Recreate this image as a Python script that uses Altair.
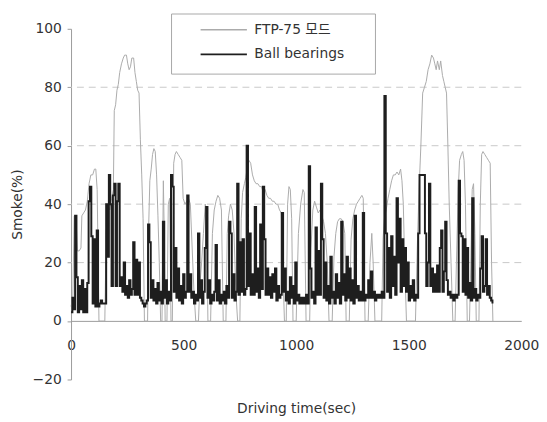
import altair as alt
import pandas as pd

FTP_LABEL = "FTP-75 모드"
BB_LABEL = "Ball bearings"

# FTP-75 mode smoke trace (time in sec, smoke %)
ftp_t = [0, 8, 14, 22, 28, 36, 44, 48, 56, 64, 72, 80, 88, 96, 104, 110, 116, 124, 150, 156,
         164, 172, 180, 188, 192, 198, 204, 210, 216, 224, 232, 238, 246, 252, 258, 264, 270, 278, 284, 290,
         296, 302, 308, 314, 320, 326, 340, 344, 350, 356, 362, 368, 374, 380, 386, 392, 398, 404, 410, 414,
         418, 426, 432, 438, 444, 450, 456, 462, 468, 476, 484, 492, 498, 506, 514, 522, 530, 538, 546, 554,
         566, 572, 580, 588, 596, 602, 608, 620, 628, 636, 644, 652, 660, 668, 676, 688, 694, 700, 708, 716,
         724, 732, 740, 750, 756, 762, 770, 776, 782, 790, 798, 806, 814, 822, 830, 838, 846, 854, 862, 870,
         878, 886, 894, 902, 910, 918, 926, 934, 940, 948, 956, 962, 968, 974, 980, 986, 1000, 1010, 1020, 1030,
         1036, 1044, 1060, 1066, 1074, 1082, 1090, 1098, 1106, 1114, 1122, 1130, 1138, 1146, 1160, 1168, 1176, 1184, 1192, 1200,
         1208, 1216, 1222, 1236, 1244, 1252, 1260, 1268, 1276, 1284, 1292, 1298, 1306, 1320, 1328, 1336, 1342, 1350, 1380, 1386,
         1392, 1400, 1408, 1416, 1424, 1432, 1440, 1448, 1456, 1464, 1470, 1476, 1482, 1490, 1530, 1538, 1546, 1554, 1562, 1570,
         1578, 1586, 1594, 1602, 1610, 1616, 1622, 1628, 1636, 1642, 1650, 1656, 1662, 1668, 1674, 1680, 1688, 1696, 1706, 1712,
         1720, 1726, 1734, 1740, 1746, 1752, 1760, 1770, 1776, 1782, 1788, 1794, 1800, 1812, 1818, 1824, 1830, 1838, 1846, 1854,
         1862, 1868, 1874]
ftp_v = [5, 8, 36, 36, 24, 24, 25, 36, 37, 38, 41, 47, 50, 50, 52, 52, 45, 0, 0, 30,
         40, 38, 42, 45, 72, 74, 79, 81, 85, 88, 90, 91, 91, 88, 86, 87, 90, 90, 85, 82,
         79, 78, 62, 50, 35, 0, 0, 30, 48, 52, 57, 59, 58, 50, 36, 20, 0, 0, 48, 30,
         0, 0, 40, 42, 0, 0, 54, 57, 58, 57, 56, 55, 42, 40, 41, 42, 40, 25, 10, 0,
         0, 12, 20, 30, 40, 38, 0, 0, 30, 38, 41, 43, 42, 38, 0, 0, 30, 36, 40, 38,
         30, 10, 0, 0, 35, 44, 47, 49, 52, 55, 54, 50, 48, 47, 47, 46, 46, 44, 45, 43,
         42, 42, 41, 41, 40, 40, 38, 37, 20, 0, 0, 40, 46, 45, 35, 0, 0, 30, 40, 45,
         44, 0, 0, 25, 38, 41, 39, 37, 38, 36, 34, 30, 20, 0, 0, 22, 30, 34, 35, 35,
         34, 30, 0, 0, 28, 35, 38, 40, 41, 42, 43, 42, 0, 0, 20, 30, 20, 0, 0, 28,
         35, 38, 42, 45, 48, 50, 50, 51, 50, 52, 48, 40, 20, 0, 0, 25, 45, 60, 78, 80,
         82, 86, 88, 91, 90, 88, 86, 89, 86, 89, 84, 82, 80, 78, 60, 40, 20, 0, 0, 20,
         45, 55, 57, 58, 55, 40, 0, 0, 20, 45, 47, 30, 0, 0, 40, 57, 58, 57, 56, 55,
         54, 20, 0]

# Ball bearings smoke trace, sampled every 6 s from t = 0
BB_STEP = 6
bb_v = [3, 8, 4, 36, 15, 3, 12, 4, 14, 3,
        11, 3, 13, 41, 46, 29, 6, 28, 5, 31,
        5, 6, 7, 6, 6, 6, 40, 22, 50, 40,
        12, 43, 47, 12, 41, 47, 12, 15, 10, 20,
        9, 12, 8, 14, 9, 11, 27, 9, 21, 9,
        20, 8, 7, 6, 5, 6, 7, 33, 27, 8,
        14, 7, 11, 6, 13, 7, 10, 6, 34, 8,
        14, 6, 10, 7, 50, 46, 10, 25, 8, 18,
        7, 12, 6, 16, 8, 10, 43, 10, 16, 8,
        10, 6, 9, 7, 30, 8, 14, 6, 10, 25,
        39, 8, 14, 6, 9, 7, 10, 26, 7, 14,
        6, 9, 7, 10, 6, 12, 8, 34, 30, 8,
        16, 7, 10, 47, 9, 27, 10, 28, 9, 11,
        60, 12, 30, 9, 16, 9, 39, 10, 18, 8,
        33, 11, 46, 28, 9, 18, 9, 15, 8, 16,
        10, 18, 7, 12, 8, 9, 37, 10, 18, 7,
        10, 6, 15, 8, 12, 6, 20, 7, 9, 6,
        8, 6, 8, 6, 9, 6, 53, 18, 8, 10,
        6, 32, 9, 24, 9, 47, 28, 8, 20, 7,
        12, 6, 22, 8, 10, 6, 16, 8, 13, 6,
        34, 9, 16, 7, 22, 8, 18, 7, 14, 6,
        36, 8, 12, 7, 10, 7, 37, 7, 9, 8,
        14, 8, 17, 8, 10, 7, 9, 8, 9, 8,
        10, 8, 77, 30, 10, 25, 8, 29, 12, 22,
        9, 42, 20, 35, 10, 28, 12, 25, 10, 20,
        7, 12, 8, 14, 7, 9, 8, 30, 50, 50,
        50, 50, 30, 12, 20, 47, 12, 18, 10, 16,
        10, 19, 10, 25, 31, 10, 17, 34, 14, 9,
        10, 8, 9, 7, 9, 8, 9, 48, 30, 29,
        10, 28, 9, 25, 8, 13, 7, 42, 8, 11,
        7, 9, 8, 18, 29, 10, 12, 28, 9, 12,
        8, 7, 6]
bb_t = [i * BB_STEP for i in range(len(bb_v))]

grid_y = [20, 40, 60, 80]
x_ticks = [0, 500, 1000, 1500, 2000]
y_ticks = [-20, 0, 20, 40, 60, 80, 100]

ftp_df = pd.DataFrame({"t": ftp_t, "v": ftp_v, "s": FTP_LABEL})
bb_df = pd.DataFrame({"t": bb_t, "v": bb_v, "s": BB_LABEL})
grid_df = pd.DataFrame({"g": grid_y})
frame_df = pd.DataFrame({"k": [0]})

FONT = "DejaVu Sans"
TXT = "#333333"
AX = "#9a9a9a"

x_scale = alt.Scale(domain=[0, 2000], nice=False, zero=False)
y_scale = alt.Scale(domain=[-20, 100], nice=False, zero=False)
color_scale = alt.Scale(domain=[FTP_LABEL, BB_LABEL], range=["#ababab", "#1e1e1e"])

x_axis = alt.Axis(values=x_ticks, format="d", title="Driving time(sec)", grid=False, ticks=False,
                  tickSize=0, offset=-59.5, domainColor=AX, labelFont=FONT, labelFontSize=14,
                  labelColor=TXT, labelPadding=18, labelFlush=False, titleFont=FONT,
                  titleFontSize=14, titleFontWeight="normal", titleColor=TXT, titlePadding=50)
y_axis = alt.Axis(values=y_ticks, format="d", title="Smoke(%)", grid=False, tickSize=4,
                  tickColor=AX, domainColor=AX, labelFont=FONT, labelFontSize=14, labelColor=TXT,
                  labelPadding=6, labelFlush=False, titleFont=FONT, titleFontSize=14,
                  titleFontWeight="normal", titleColor=TXT, titlePadding=8)

legend = alt.Legend(title=None, orient="none", legendX=102, legendY=-15, direction="vertical",
                    padding=5, symbolType="M-2.35,0H2.35", symbolSize=400, symbolStrokeWidth=1.6,
                    symbolOffset=37, labelOffset=20, rowPadding=7,
                    labelFont=FONT + ", Noto Sans CJK KR", labelFontSize=14, labelColor=TXT)

grid = alt.Chart(grid_df).mark_rule(color="#c8c8c8", strokeDash=[7, 5], strokeWidth=1).encode(
    y=alt.Y("g:Q", scale=y_scale, axis=y_axis)
)

ftp_line = alt.Chart(ftp_df).mark_line(strokeWidth=1).encode(
    x=alt.X("t:Q", scale=x_scale, axis=x_axis),
    y=alt.Y("v:Q", scale=y_scale, axis=y_axis),
    color=alt.Color("s:N", scale=color_scale, legend=legend),
)

bb_line = alt.Chart(bb_df).mark_line(strokeWidth=2, interpolate="step-after").encode(
    x=alt.X("t:Q", scale=x_scale, axis=x_axis),
    y=alt.Y("v:Q", scale=y_scale, axis=y_axis),
    color=alt.Color("s:N", scale=color_scale, legend=legend),
)

# legend frame (white box with grey border behind the legend entries)
frame = alt.Chart(frame_df).mark_rect(fill="white", stroke="#a8a8a8", strokeWidth=1, clip=False).encode(
    x=alt.value(102), x2=alt.value(309), y=alt.value(-15), y2=alt.value(46)
)

chart = alt.layer(grid, ftp_line, bb_line, frame).properties(
    width=457,
    height=356,
    autosize=alt.AutoSizeParams(type="none"),
    padding={"left": 64, "top": 18, "right": 18, "bottom": 38},
    background="white",
).configure_view(stroke=None)

chart.save("out.html", embed_options={"renderer": "svg", "actions": False})
